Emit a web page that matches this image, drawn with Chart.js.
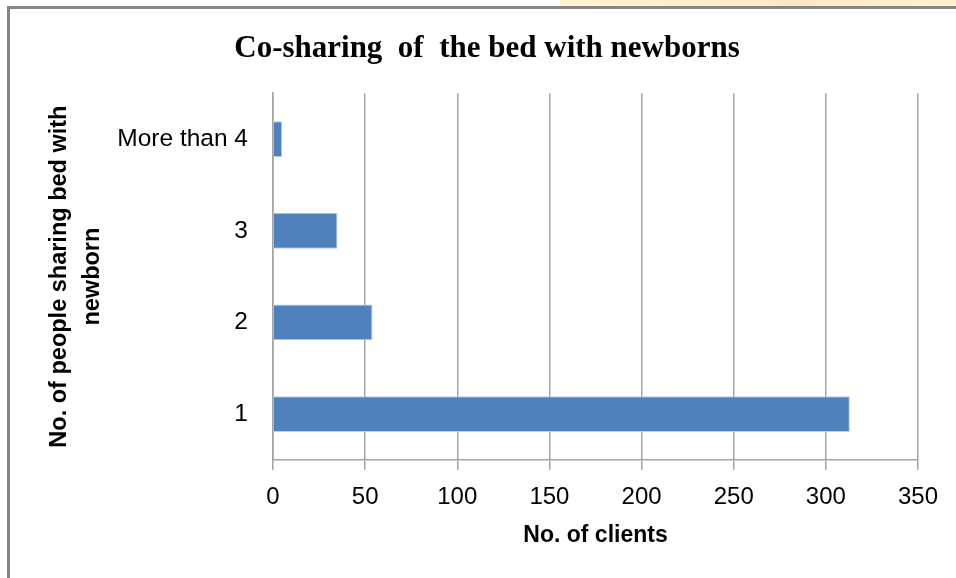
<!DOCTYPE html>
<html>
<head>
<meta charset="utf-8">
<title>Co-sharing of the bed with newborns</title>
<script src="https://cdn.jsdelivr.net/npm/chart.js@4/dist/chart.umd.min.js"></script>
<style>
    html, body { margin: 0; padding: 0; background: #fff; }
    #wrap { position: relative; width: 956px; height: 578px; overflow: hidden; }
    #strip {
        position: absolute; left: 560px; top: 0; width: 396px; height: 6px;
        background: linear-gradient(90deg, #fff6cf 0%, #fde8c4 60%, #fff3cf 100%);
    }
    #frame {
        position: absolute; left: 7px; top: 6px; width: 980px; height: 600px;
        border: 3px solid #858585; box-sizing: border-box;
    }
    #bedChart { position: absolute; left: 0; top: 0; }
</style>
</head>
<body>
<div id="wrap">
    <div id="strip"></div>
    <div id="frame"></div>
    <canvas id="bedChart" width="956" height="578"></canvas>
</div>
<script>
    // Datos del gráfico
    const categories = ['1', '2', '3', 'More than 4'];
    const clients = [313, 54, 35, 5];
    const xTicks = [0, 50, 100, 150, 200, 250, 300, 350];

    const gridColor = '#a3a3a3';
    const padLeft = 56;

    Chart.defaults.color = '#000';
    Chart.defaults.font.family = '"Liberation Sans", Arial, sans-serif';

    const ctx = document.getElementById('bedChart').getContext('2d');
    new Chart(ctx, {
        type: 'bar',
        data: {
            labels: categories,
            datasets: [{
                label: 'No. of clients',
                data: clients,
                backgroundColor: '#4f81bd',
                borderColor: '#b9cde5',
                borderWidth: 1,
                categoryPercentage: 1,
                barPercentage: 0.39
            }]
        },
        options: {
            indexAxis: 'y',
            responsive: false,
            animation: false,
            layout: {
                padding: { top: 0, left: padLeft, right: 38, bottom: 0 }
            },
            plugins: {
                legend: { display: false },
                tooltip: { enabled: false },
                title: {
                    display: true,
                    text: 'Co-sharing  of  the bed with newborns',
                    color: '#000',
                    font: { family: '"Liberation Serif", "Times New Roman", serif', size: 31, weight: 'bold', lineHeight: 1.2 },
                    padding: { top: 30, bottom: 26 }
                }
            },
            scales: {
                x: {
                    min: xTicks[0],
                    max: xTicks[xTicks.length - 1],
                    afterBuildTicks: (scale) => {
                        scale.ticks = xTicks.map(v => ({ value: v }));
                    },
                    afterFit: (scale) => { scale.height = 118; },
                    grid: {
                        color: gridColor,
                        lineWidth: 1.5,
                        tickLength: 10,
                        tickColor: gridColor
                    },
                    border: { color: gridColor, width: 1.5 },
                    ticks: {
                        padding: 13,
                        font: { size: 24 }
                    },
                    title: {
                        display: true,
                        text: 'No. of clients',
                        font: { size: 23, weight: 'bold', lineHeight: 1.2 },
                        padding: { top: 0, bottom: 29 }
                    }
                },
                y: {
                    reverse: true,
                    afterFit: (scale) => { scale.width = 273 - padLeft; },
                    grid: { display: false },
                    border: { display: true, color: gridColor, width: 1.5 },
                    ticks: {
                        padding: 17,
                        font: { size: 24.5 }
                    },
                    title: {
                        display: true,
                        text: ['No. of people sharing bed with', 'newborn'],
                        font: { size: 23.5, weight: 'bold', lineHeight: 1.4 },
                        padding: { top: 43 - padLeft, bottom: 0 }
                    }
                }
            }
        }
    });
</script>
</body>
</html>
